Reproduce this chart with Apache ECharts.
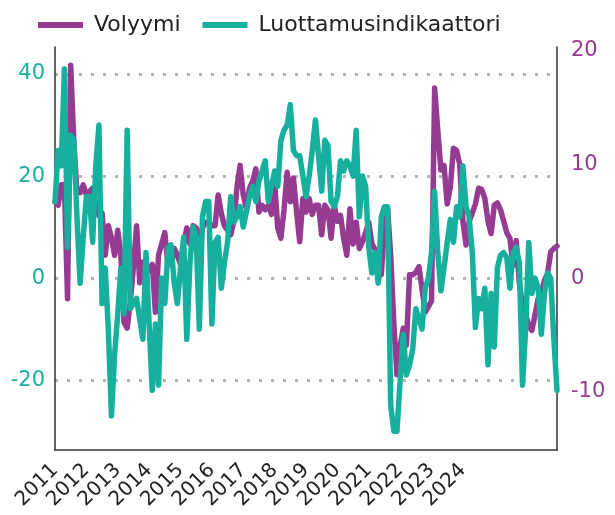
<!DOCTYPE html>
<html>
<head>
<meta charset="utf-8">
<script src="https://cdn.jsdelivr.net/npm/echarts@6/dist/echarts.min.js"></script>
<style>
html,body{margin:0;padding:0;background:#fff;}
#chart{width:615px;height:515px;}
</style>
</head>
<body>
<div id="chart"></div>
<script>
// Year tick labels (placed every 10th data point, as in the reference)
const yearLabels = ['2011','2012','2013','2014','2015','2016','2017','2018','2019','2020','2021','2022','2023','2024'];
const labelStep = 10;

// Volyymi (right axis)
const volyymi = [
  6.7, 6.4, 8.2, 8.2, -1.8, 18.7, 12, 7.5, 7.5, 8.2,
  7.3, 7.6, 7.9, 6.5, 5.5, 5.7, 2, 4.6, 3.5, 2,
  4.2, 2, -3.9, -4.4, -2.1, 1, 4.6, -0.4, 1.4, 1,
  0.7, 1.2, -3, 2, 3, 4, 1.2, 1.2, 2.6, 2,
  1.2, 3, 4.4, 3, 4.6, 4.4, 2.6, 4.4, 4.9, 4.8,
  4.6, 4.6, 7.3, 5.7, 4.6, 4.2, 3.8, 5, 8, 9.9,
  7.3, 6.1, 7.9, 8.5, 9.6, 5.8, 6.4, 6, 6.4, 5.6,
  8.4, 4.4, 3.5, 6, 9.3, 6.7, 8.8, 5.8, 3.2, 7,
  5.8, 7, 5.6, 6.4, 6.4, 3.8, 6.4, 6, 3.5, 6.4,
  5, 5.5, 3.5, 2, 6.1, 3, 4.9, 2.6, 3.2, 4,
  4.9, 3, 2.5, 2, 0.3, 4.6, 6.1, 2, -4, -8.5,
  -6, -4.4, -5.9, 0.3, 0.3, 0.5, 1, -1, -3, -2.5,
  -2, 16.7, 13, 9.5, 9.9, 6.5, 8, 11.4, 11.2, 10,
  5, 2.9, 5, 5.7, 6.5, 7.9, 7.8, 7, 5, 3.9,
  6.4, 6.6, 6, 5, 4, 3.5, 1.1, 3.3, -0.4, -2.5,
  -3.2, -4.2, -4.6, -3.2, -1.8, -1.3, -0.2, 0.4, 2.3, 2.6,
  2.8
];

// Luottamusindikaattori (left axis)
const luottamus = [
  15, 25, 22, 41, 6, 28, 27, 12, -1, 8,
  16, 16, 7, 22, 30, -5, 2, -10, -27, -15,
  -7, 2, -7, 29, -6, -5, -4, -8, -12, 5,
  -9, -22, -9, -21, 0, -5, 6, 6.5, -1, -5,
  2, 8, -12, 3, 10, 8, -10, 12, 15, 15,
  -9, 7, 8, -2, 3, 7, 16, 11, 12, 14,
  10, 13, 16, 18, 15, 19, 21, 23, 15, 18,
  21, 18, 27, 29, 30, 34, 25, 24, 24, 20,
  16, 20, 25, 31, 24, 17, 27, 26, 15, 14,
  16, 23, 21, 23, 22, 20, 29, 12, 20, 18,
  6, 1, 5, -1, 12, 14, 14, -25, -30, -30,
  -20, -11, -19, -17, -14, -6, -8, -10, -2, 0,
  5, 17, 5, -2.5, 2, 7, 11.5, 7, 14, 12,
  22, 14, 12, 5, -9.7, -4, -6, -2, -17, -3,
  -13.5, 2, 4.5, 5, 4, -2, 5, 6, 3, -21,
  -10, 7, -3, 0, -2, -11, -3, 1, 0, -12,
  -22
];

const categories = luottamus.map((_, i) => String(i));

const PURPLE = '#953b92';
const TEAL = '#17b09f';
const FONT = 'DejaVu Sans';

const chart = echarts.init(document.getElementById('chart'), null, {renderer: 'canvas'});
chart.setOption({
  animation: false,
  backgroundColor: '#fff',
  legend: {
    top: 9,
    left: 33,
    icon: 'rect',
    itemWidth: 45,
    itemHeight: 6,
    itemGap: 22,
    textStyle: {fontFamily: FONT, fontSize: 22, color: '#222', padding: [0, 0, 0, 6]},
    data: ['Volyymi', 'Luottamusindikaattori']
  },
  grid: {left: 55, right: 58, top: 47, bottom: 65, containLabel: false},
  xAxis: {
    type: 'category',
    data: categories,
    boundaryGap: false,
    axisLine: {show: true, onZero: false, lineStyle: {color: '#333', width: 1.5}},
    axisTick: {show: false},
    axisLabel: {
      interval: 0,
      rotate: 45,
      margin: 17,
      hideOverlap: false,
      fontFamily: FONT,
      fontSize: 20,
      color: '#222',
      formatter: function (v, idx) {
        if (idx % labelStep === 0) {
          const k = idx / labelStep;
          return k < yearLabels.length ? yearLabels[k] : '';
        }
        return '';
      }
    },
    splitLine: {show: false}
  },
  yAxis: [
    {
      type: 'value',
      min: -33.7,
      max: 45.3,
      splitNumber: 4,
      axisLine: {show: true, onZero: false, lineStyle: {color: '#333', width: 1.5}},
      axisTick: {show: false},
      axisLabel: {
        fontFamily: FONT, fontSize: 21, color: TEAL, margin: 10,
        showMinLabel: false, showMaxLabel: false,
        formatter: v => (Math.abs(v % 20) < 1e-6 ? String(v) : '')
      },
      splitLine: {
        show: true, showMinLine: false, showMaxLine: false,
        lineStyle: {color: '#b3b3b3', width: 3, type: [3, 9]}
      }
    },
    {
      type: 'value',
      min: -15.1,
      max: 20.3,
      splitNumber: 4,
      position: 'right',
      axisLine: {show: true, onZero: false, lineStyle: {color: '#333', width: 1.5}},
      axisTick: {show: false},
      axisLabel: {
        fontFamily: FONT, fontSize: 21, color: PURPLE, margin: 14,
        showMinLabel: false, showMaxLabel: false,
        formatter: v => (Math.abs(v % 10) < 1e-6 ? String(v) : '')
      },
      splitLine: {show: false}
    }
  ],
  series: [
    {
      name: 'Volyymi',
      type: 'line',
      yAxisIndex: 1,
      data: volyymi,
      showSymbol: false,
      symbol: 'none',
      color: PURPLE,
      lineStyle: {width: 5.5, color: PURPLE, join: 'round', cap: 'round'}
    },
    {
      name: 'Luottamusindikaattori',
      type: 'line',
      yAxisIndex: 0,
      data: luottamus,
      showSymbol: false,
      symbol: 'none',
      color: TEAL,
      lineStyle: {width: 5.5, color: TEAL, join: 'round', cap: 'round'}
    }
  ]
});
</script>
</body>
</html>
